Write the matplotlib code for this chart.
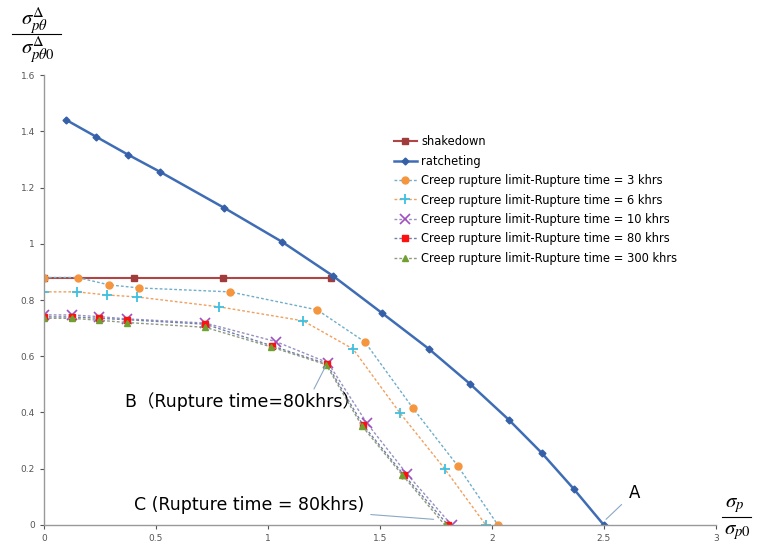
import numpy as np
import matplotlib.pyplot as plt
from matplotlib.ticker import FuncFormatter

plt.rcParams['mathtext.fontset'] = 'stix'

# shakedown / ratcheting boundaries
shake_x = [0, 0.4, 0.8, 1.28]
shake_y = [0.88, 0.88, 0.88, 0.88]

ratch_x = [0.1, 0.232, 0.375, 0.518, 0.804, 1.063, 1.29, 1.509, 1.719, 1.902, 2.076, 2.223, 2.366, 2.5]
ratch_y = [1.44, 1.381, 1.317, 1.256, 1.128, 1.007, 0.886, 0.754, 0.626, 0.502, 0.374, 0.256, 0.128, 0.0]

# creep rupture limits
cr3_x = [0, 0.15, 0.29, 0.424, 0.83, 1.22, 1.433, 1.647, 1.848, 2.027]
cr3_y = [0.88, 0.88, 0.854, 0.843, 0.829, 0.765, 0.651, 0.416, 0.21, 0.0]

cr6_x = [0, 0.147, 0.28, 0.415, 0.78, 1.157, 1.38, 1.589, 1.79, 1.973]
cr6_y = [0.829, 0.829, 0.818, 0.811, 0.776, 0.726, 0.626, 0.399, 0.199, 0.0]

cr10_x = [0, 0.125, 0.245, 0.37, 0.72, 1.036, 1.268, 1.442, 1.62, 1.82]
cr10_y = [0.747, 0.747, 0.741, 0.733, 0.718, 0.652, 0.577, 0.362, 0.182, 0.0]

cr80_x = [0, 0.125, 0.245, 0.37, 0.72, 1.018, 1.263, 1.424, 1.607, 1.804]
cr80_y = [0.74, 0.74, 0.735, 0.73, 0.714, 0.637, 0.573, 0.356, 0.178, 0.0]

cr300_x = [0, 0.125, 0.245, 0.37, 0.72, 1.015, 1.26, 1.42, 1.6, 1.79]
cr300_y = [0.735, 0.735, 0.728, 0.72, 0.703, 0.633, 0.57, 0.352, 0.178, 0.0]

fig = plt.figure(figsize=(7.59, 5.44), dpi=100)
ax = fig.add_axes([0.058, 0.035, 0.885, 0.827])

ax.plot(shake_x, shake_y, '-', color='#B04545', lw=1.5, marker='s', ms=5,
        mfc='#A03C3C', mec='#A03C3C', label='shakedown')
ax.plot(ratch_x, ratch_y, '-', color='#3F6DB5', lw=1.8, marker='D', ms=3.5,
        mfc='#3560A8', mec='#3560A8', label='ratcheting')

dash = (0, (2, 1.5))
ax.plot(cr3_x, cr3_y, linestyle=dash, color='#6FAFC8', lw=1, marker='o', ms=5,
        mfc='#F5963F', mec='#F5963F', label='Creep rupture limit-Rupture time = 3 khrs')
ax.plot(cr6_x, cr6_y, linestyle=dash, color='#F0A060', lw=1, marker='+', ms=7, mew=1.3,
        mfc='#3FC0E0', mec='#3FC0E0', label='Creep rupture limit-Rupture time = 6 khrs')
ax.plot(cr10_x, cr10_y, linestyle=dash, color='#9A90C0', lw=1, marker='x', ms=7, mew=1.2,
        mfc='#A050C0', mec='#A050C0', label='Creep rupture limit-Rupture time = 10 khrs')
ax.plot(cr80_x, cr80_y, linestyle=dash, color='#7080A8', lw=1, marker='s', ms=4,
        mfc='#FF1010', mec='#FF1010', label='Creep rupture limit-Rupture time = 80 khrs')
ax.plot(cr300_x, cr300_y, linestyle=dash, color='#909A80', lw=1, marker='^', ms=4,
        mfc='#6FA030', mec='#6FA030', label='Creep rupture limit-Rupture time = 300 khrs')

ax.set_xlim(0, 3)
ax.set_ylim(0, 1.6)
ax.set_xticks([0, 0.5, 1, 1.5, 2, 2.5, 3])
ax.set_yticks(np.arange(0, 1.61, 0.2))
fmt = FuncFormatter(lambda v, p: '%g' % round(v, 2))
ax.xaxis.set_major_formatter(fmt)
ax.yaxis.set_major_formatter(fmt)
ax.tick_params(labelsize=6.5, colors='#555555', length=3, width=0.8)
for s in ['top', 'right']:
    ax.spines[s].set_visible(False)
for s in ['left', 'bottom']:
    ax.spines[s].set_color('#999999')
    ax.spines[s].set_linewidth(1)

ax.legend(loc='upper left', bbox_to_anchor=(0.505, 0.77), bbox_transform=fig.transFigure,
          frameon=False, fontsize=8.3, handlelength=2, labelspacing=0.55,
          handletextpad=0.4)

# annotations
ax.annotate('B（Rupture time=80khrs）', xy=(1.263, 0.573), xytext=(0.36, 0.44),
            fontsize=12.5, fontfamily=['DejaVu Sans', 'Noto Sans CJK SC'],
            va='center', ha='left',
            arrowprops=dict(arrowstyle='-', color='#8AA8C8', lw=0.8,
                            shrinkA=0, shrinkB=2, relpos=(0.8, 1)))
ax.annotate('C (Rupture time = 80khrs)', xy=(1.74, 0.02), xytext=(0.4, 0.07),
            fontsize=12.5, va='center', ha='left',
            arrowprops=dict(arrowstyle='-', color='#8AA8C8', lw=0.8,
                            shrinkA=3, shrinkB=0))
ax.annotate('A', xy=(2.51, 0.02), xytext=(2.61, 0.115), fontsize=12,
            va='center', ha='left',
            arrowprops=dict(arrowstyle='-', color='#8AA8C8', lw=0.8,
                            shrinkA=4, shrinkB=0))

# axis labels as fractions
fig.text(0.046, 0.962, r'$\sigma^{\Delta}_{p\theta}$', fontsize=15, ha='center', va='center')
fig.add_artist(plt.Line2D([0.016, 0.08], [0.938, 0.938], color='black', lw=0.8))
fig.text(0.05, 0.908, r'$\sigma^{\Delta}_{p\theta 0}$', fontsize=15, ha='center', va='center')

fig.text(0.968, 0.072, r'$\sigma_{p}$', fontsize=15, ha='center', va='center')
fig.add_artist(plt.Line2D([0.951, 0.99], [0.05, 0.05], color='black', lw=0.8))
fig.text(0.972, 0.022, r'$\sigma_{p0}$', fontsize=15, ha='center', va='center')

fig.savefig('out.png', dpi=100)
